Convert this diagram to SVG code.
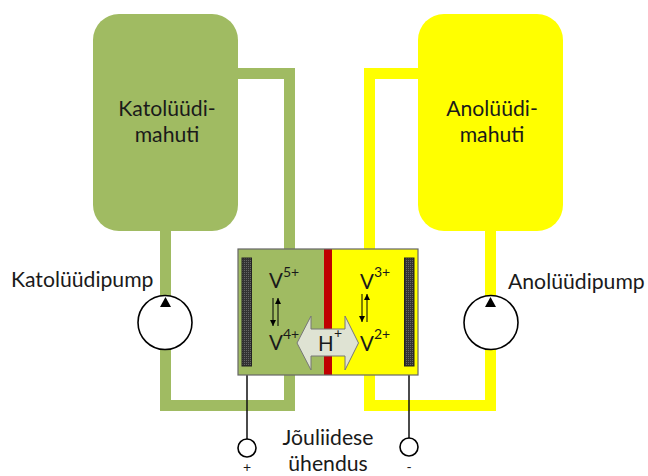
<svg xmlns="http://www.w3.org/2000/svg" width="648" height="476" viewBox="0 0 648 476">
<style>
text{font-family:"Lato","Open Sans",sans-serif;fill:#1a1a1a;font-size:21.200px}
.g{fill:#a0bb62}.y{fill:#ffff00}
.w{fill:#fff;stroke:#000;stroke-width:1.6}
.l{stroke:#111;stroke-width:1.5;fill:none}
.t{stroke:#000;stroke-width:1;fill:none}
.e{fill:url(#dots);stroke:#222;stroke-width:1}
.v{font-size:20.500px}.s{font-size:14px}.p{font-size:14px}
</style>
<defs>
<marker id="a" markerWidth="6" markerHeight="7" refX="6" refY="3" orient="auto" markerUnits="userSpaceOnUse"><path d="M0 0L6 3L0 6Z" fill="#000"/></marker>
<pattern id="dots" width="2" height="2" patternUnits="userSpaceOnUse"><rect width="2" height="2" fill="#333"/><rect width="1" height="1" fill="#666"/></pattern>
</defs>
<rect width="648" height="476" fill="#fff"/>
<g id="connectors">
<path class="g" d="M237 68H295V249H284V79H237Z"/>
<path class="y" d="M418 68H364V249H375V79H418Z"/>
<path class="g" d="M160 228H171V400H284V374H295V411H160Z"/>
<path class="y" d="M485 228H496V411H364V374H375V400H485Z"/>
<path class="l" d="M247 375V439M409 375V438"/>
</g>
<g id="katoluudi-mahuti">
<rect class="g" x="93" y="14" width="145" height="217" rx="26"/>
<text x="167" y="116" text-anchor="middle">Katolüüdi-</text>
<text x="167" y="142" text-anchor="middle">mahuti</text>
</g>
<g id="anoluudi-mahuti">
<rect class="y" x="418" y="14" width="145" height="217" rx="26"/>
<text x="492" y="116" text-anchor="middle">Anolüüdi-</text>
<text x="492" y="142" text-anchor="middle">mahuti</text>
</g>
<g id="katoluudipump">
<circle class="w" cx="165" cy="322.500" r="27"/>
<path d="M165.500 297L160 307H171Z" fill="#000"/>
<text x="11" y="287">Katolüüdipump</text>
</g>
<g id="anoluudipump">
<circle class="w" cx="491" cy="322.500" r="27"/>
<path d="M490.500 297L485 307H496Z" fill="#000"/>
<text x="508" y="289">Anolüüdipump</text>
</g>
<g id="cell">
<rect class="g" x="238" y="249" width="87" height="126"/>
<rect class="y" x="331" y="249" width="87" height="126"/>
<rect x="324" y="249" width="8" height="126" fill="#c00000"/>
<rect x="238" y="249" width="180" height="126" fill="none" stroke="#666" stroke-width="1.200"/>
<rect class="e" x="242" y="258" width="9.500" height="108"/>
<rect class="e" x="404.500" y="258" width="9.500" height="108"/>
<text class="v" x="269" y="288">V</text><text class="s" x="283" y="277">5+</text>
<text class="v" x="269" y="350">V</text><text class="s" x="283" y="339">4+</text>
<text class="v" x="360" y="289">V</text><text class="s" x="374" y="277">3+</text>
<text class="v" x="360" y="351">V</text><text class="s" x="374" y="339">2+</text>
<path class="t" d="M273 298V326" marker-end="url(#a)"/>
<path class="t" d="M278 326V298" marker-end="url(#a)"/>
<path class="t" d="M362 294V322" marker-end="url(#a)"/>
<path class="t" d="M367 322V294" marker-end="url(#a)"/>
</g>
<g id="h-ion">
<path d="M297 343L311 316V329H345V316L358.500 343L345 370V356H311V370Z" fill="#dfe3d3" stroke="#777" stroke-width="1"/>
<text class="v" x="318" y="351">H</text><text class="s" x="334" y="338">+</text>
</g>
<g id="terminal-plus">
<circle class="w" cx="247" cy="448" r="9"/>
<text class="p" x="247" y="472" text-anchor="middle">+</text>
</g>
<g id="terminal-minus">
<circle class="w" cx="409" cy="447" r="9"/>
<text class="p" x="409" y="472" text-anchor="middle">-</text>
</g>
<g id="joined-label">
<text x="328" y="445" text-anchor="middle">Jõuliidese</text>
<text x="328" y="471" text-anchor="middle">ühendus</text>
</g>
</svg>
